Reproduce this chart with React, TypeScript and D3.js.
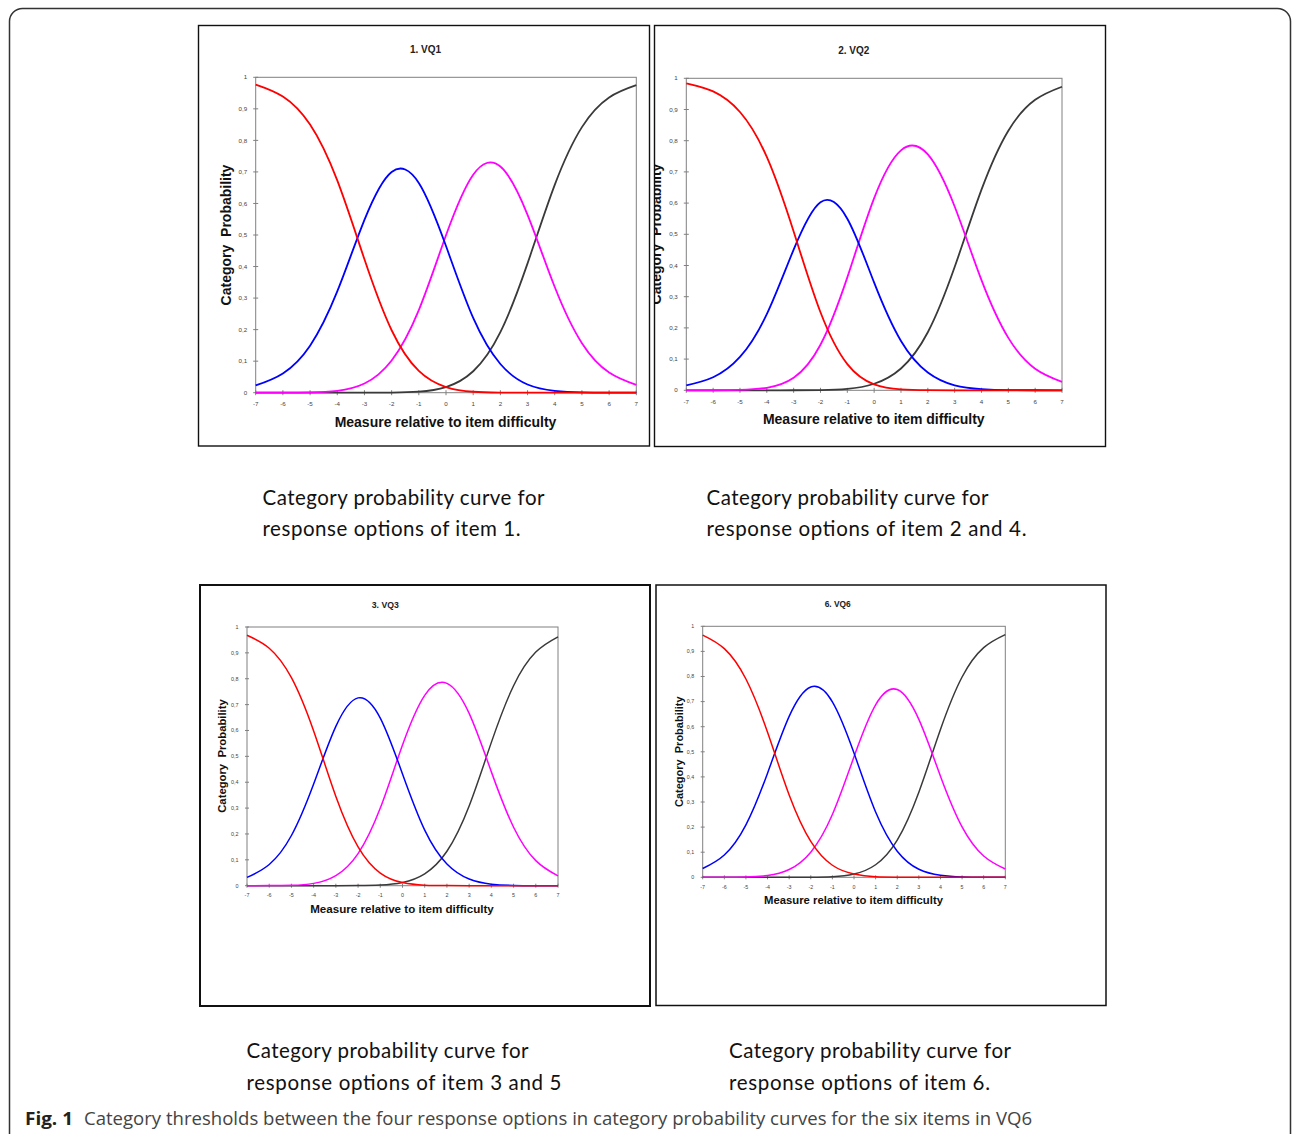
import React from "react";
import * as d3 from "d3";

// ---------- data ----------
const measures = [-7, -6, -5, -4, -3, -2, -1, 0, 1, 2, 3, 4, 5, 6, 7];
const yTickValues = [0, 0.1, 0.2, 0.3, 0.4, 0.5, 0.6, 0.7, 0.8, 0.9, 1];
const yTickLabels = ["0", "0,1", "0,2", "0,3", "0,4", "0,5", "0,6", "0,7", "0,8", "0,9", "1"];
const panelTitles = ["1. VQ1", "2. VQ2", "3. VQ3", "6. VQ6"];
const yAxisTitle = "Category  Probability";
const xAxisTitle = "Measure relative to item difficulty";
const categoryColors = ["#ff0000", "#0000ff", "#ff00ff", "#3a3a3a"];

const vq1Cat1 = [0.977, 0.939, 0.85, 0.673, 0.423, 0.198, 0.069, 0.018, 0.003, 0.0005, 0, 0, 0, 0, 0];
const vq1Cat2 = [0.023, 0.061, 0.149, 0.321, 0.548, 0.7, 0.665, 0.465, 0.237, 0.091, 0.026, 0.006, 0.001, 0.0002, 0];
const vq1Cat3 = [0, 0.0002, 0.001, 0.006, 0.029, 0.102, 0.262, 0.499, 0.691, 0.717, 0.564, 0.335, 0.157, 0.064, 0.025];
const vq1Cat4 = [0, 0, 0, 0, 0, 0.0005, 0.0035, 0.018, 0.068, 0.192, 0.41, 0.659, 0.842, 0.936, 0.975];

const vq2Cat1 = [0.984, 0.958, 0.892, 0.748, 0.509, 0.25, 0.084, 0.019, 0.003, 0.0004, 0, 0, 0, 0, 0];
const vq2Cat2 = [0.016, 0.042, 0.107, 0.244, 0.451, 0.603, 0.55, 0.345, 0.158, 0.057, 0.016, 0.004, 0.0006, 0.0001, 0];
const vq2Cat3 = [0, 0.0002, 0.0013, 0.008, 0.04, 0.146, 0.362, 0.616, 0.769, 0.756, 0.589, 0.353, 0.168, 0.069, 0.027];
const vq2Cat4 = [0, 0, 0, 0, 0.0001, 0.0007, 0.0044, 0.021, 0.07, 0.186, 0.395, 0.643, 0.832, 0.931, 0.973];

const vq3Cat1 = [0.968, 0.918, 0.804, 0.598, 0.345, 0.15, 0.049, 0.012, 0.002, 0.0003, 0, 0, 0, 0, 0];
const vq3Cat2 = [0.032, 0.082, 0.194, 0.393, 0.616, 0.726, 0.648, 0.432, 0.215, 0.084, 0.026, 0.006, 0.001, 0.0002, 0];
const vq3Cat3 = [0, 0.0003, 0.0016, 0.009, 0.039, 0.124, 0.3, 0.544, 0.736, 0.782, 0.666, 0.44, 0.226, 0.097, 0.038];
const vq3Cat4 = [0, 0, 0, 0, 0, 0.0004, 0.0025, 0.0125, 0.046, 0.133, 0.308, 0.554, 0.773, 0.903, 0.962];

const vq6Cat1 = [0.965, 0.911, 0.79, 0.578, 0.328, 0.143, 0.048, 0.013, 0.002, 0.0004, 0, 0, 0, 0, 0];
const vq6Cat2 = [0.035, 0.089, 0.209, 0.415, 0.641, 0.758, 0.699, 0.495, 0.26, 0.104, 0.032, 0.008, 0.0014, 0.0002, 0];
const vq6Cat3 = [0, 0.0002, 0.0014, 0.007, 0.031, 0.1, 0.25, 0.48, 0.687, 0.748, 0.629, 0.403, 0.201, 0.085, 0.033];
const vq6Cat4 = [0, 0, 0, 0, 0, 0.0004, 0.0025, 0.013, 0.05, 0.148, 0.339, 0.589, 0.798, 0.915, 0.967];

const panelSeries = [
  [vq1Cat4, vq1Cat3, vq1Cat2, vq1Cat1],
  [vq2Cat4, vq2Cat3, vq2Cat2, vq2Cat1],
  [vq3Cat4, vq3Cat3, vq3Cat2, vq3Cat1],
  [vq6Cat4, vq6Cat3, vq6Cat2, vq6Cat1],
];

const captionLine1 = "Category probability curve for";
const captionLines2 = [
  "response options of item 1.",
  "response options of item 2 and 4.",
  "response options of item 3 and 5",
  "response options of item 6.",
];
const figLabel = "Fig. 1";
const figText = "Category thresholds between the four response options in category probability curves for the six items in VQ6";

// ---------- layout ----------
const layouts = [
  { box: [198.5, 25.5, 451, 420.5], bw: 1.4, plot: [255.7, 636.3, 77.3, 392.7], title: [425.5, 53.3, 10], yl: [231, 235, 14], xl: [445.5, 426.7, 14], tf: 6.2, tick: 2.5, lw: 1.8, tlOff: 13.5,
    cap: [262.5, 505, 536, 282, 258] },
  { box: [654.5, 25.5, 451, 421], bw: 1.4, plot: [686.3, 1062, 78.3, 390.3], title: [853.7, 54.3, 10], yl: [661, 234, 14], xl: [873.8, 424, 14], tf: 6.2, tick: 2.5, lw: 1.8, tlOff: 13.5,
    cap: [706.5, 505, 536, 282, 320] },
  { box: [200, 585, 450, 421], bw: 2, plot: [247, 558, 627, 885.7], title: [385.3, 608, 8.7], yl: [226, 756, 11.3], xl: [402, 913, 11.6], tf: 5.4, tick: 2, lw: 1.5, tlOff: 11.7,
    cap: [246.5, 1058, 1089.5, 282, 315] },
  { box: [656, 585, 450, 420.5], bw: 1.5, plot: [702.7, 1005.3, 626.3, 877.3], title: [837.7, 607, 8.4], yl: [683, 751.7, 11], xl: [853.5, 903.7, 11.3], tf: 5.3, tick: 2, lw: 1.5, tlOff: 11.5,
    cap: [729, 1058, 1089.5, 282, 261] },
];

const sans = "'Liberation Sans', Arial, sans-serif";
const captionFont = "Lato, 'Open Sans', sans-serif";

function Panel({ idx }: { idx: number }) {
  const L = layouts[idx];
  const [bx, by, bw, bh] = L.box;
  const [l, r, t, b] = L.plot;
  const x = d3.scaleLinear().domain([-7, 7]).range([l, r]);
  const y = d3.scaleLinear().domain([0, 1]).range([b, t]);
  const line = d3
    .line<number>()
    .x((_, i) => x(measures[i]))
    .y((d) => y(d))
    .curve(d3.curveNatural);
  const clipId = `clip-${idx}`;
  const axisColor = "#808080";
  return (
    <g>
      <defs>
        <clipPath id={clipId}>
          <rect x={bx} y={by} width={bw} height={bh} />
        </clipPath>
        <clipPath id={clipId + "p"}>
          <rect x={l - 2} y={t - 2} width={r - l + 4} height={b - t + 4} />
        </clipPath>
      </defs>
      <g clipPath={`url(#${clipId})`}>
        <text x={L.title[0]} y={L.title[1]} textAnchor="middle" fontFamily={sans} fontWeight="bold" fontSize={L.title[2]} fill="#222">
          {panelTitles[idx]}
        </text>
        {/* plot frame */}
        <rect x={l} y={t} width={r - l} height={b - t} fill="none" stroke={axisColor} strokeWidth={1} />
        {/* y axis ticks */}
        {yTickValues.map((v, i) => (
          <g key={"y" + i}>
            <line x1={l - L.tick} x2={l + L.tick} y1={y(v)} y2={y(v)} stroke={axisColor} strokeWidth={1} />
            <text x={l - 8.5} y={y(v)} dy="0.35em" textAnchor="end" fontFamily={sans} fontSize={L.tf} fill="#444">
              {yTickLabels[i]}
            </text>
          </g>
        ))}
        {measures.map((m) => (
          <g key={"x" + m}>
            <line x1={x(m)} x2={x(m)} y1={b - L.tick} y2={b + L.tick} stroke={axisColor} strokeWidth={1} />
            <text x={x(m)} y={b + L.tlOff} textAnchor="middle" fontFamily={sans} fontSize={L.tf} fill="#444">
              {String(m)}
            </text>
          </g>
        ))}
        <g clipPath={`url(#${clipId}p)`}>
          {panelSeries[idx].map((s, k) => (
            <path key={k} d={line(s) || ""} fill="none" stroke={categoryColors[3 - k]} strokeWidth={L.lw} strokeLinejoin="round" />
          ))}
        </g>
        <text
          transform={`translate(${L.yl[0]},${L.yl[1]}) rotate(-90)`}
          textAnchor="middle"
          fontFamily={sans}
          fontWeight="bold"
          fontSize={L.yl[2]}
          fill="#111"
          style={{ whiteSpace: "pre" }}
        >
          {yAxisTitle}
        </text>
        <text x={L.xl[0]} y={L.xl[1]} textAnchor="middle" fontFamily={sans} fontWeight="bold" fontSize={L.xl[2]} fill="#111">
          {xAxisTitle}
        </text>
      </g>
      <rect x={bx} y={by} width={bw} height={bh} fill="none" stroke="#111" strokeWidth={L.bw} />
      <text x={L.cap[0]} y={L.cap[1]} fontFamily={captionFont} fontSize={20.5} fill="#111" textLength={L.cap[3]} lengthAdjust="spacing">
        {captionLine1}
      </text>
      <text x={L.cap[0]} y={L.cap[2]} fontFamily={captionFont} fontSize={20.5} fill="#111" textLength={L.cap[4]} lengthAdjust="spacing">
        {captionLines2[idx]}
      </text>
    </g>
  );
}

export default function App() {
  return (
    <div style={{ position: "absolute", left: 0, top: 0 }}>
      <svg width={1292} height={1134} style={{ display: "block", background: "#fff" }}>
        <rect x={9.5} y={8.5} width={1281} height={1200} rx={13} ry={13} fill="none" stroke="#333" strokeWidth={1.5} />
        {[0, 1, 2, 3].map((i) => (
          <Panel key={i} idx={i} />
        ))}
        <text x={25} y={1124.5} fontFamily="'Open Sans', sans-serif" fontWeight="bold" fontSize={18} fill="#222" textLength={48} lengthAdjust="spacingAndGlyphs">
          {figLabel}
        </text>
        <text x={84} y={1124.5} fontFamily="'Open Sans', sans-serif" fontSize={18} fill="#444" textLength={948} lengthAdjust="spacingAndGlyphs">
          {figText}
        </text>
      </svg>
    </div>
  );
}
